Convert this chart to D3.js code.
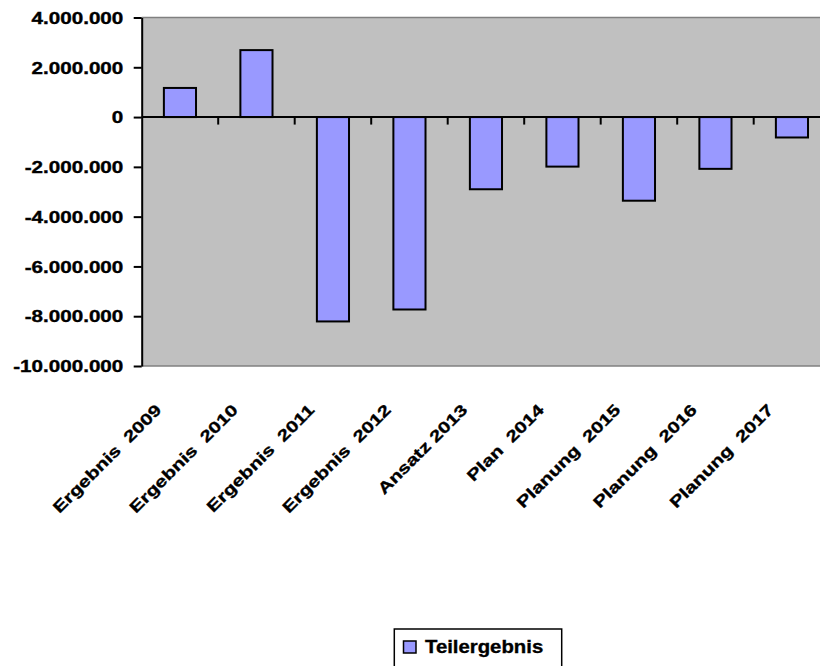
<!DOCTYPE html>
<html>
<head>
<meta charset="utf-8">
<script src="https://cdn.jsdelivr.net/npm/d3@7"></script>
<style>
  html, body { margin: 0; padding: 0; background: #fff; }
  svg { display: block; }
  text { font-family: "Liberation Sans", Arial, sans-serif; font-weight: bold; fill: #000; stroke: #000; stroke-width: 0.35px; white-space: pre; }
</style>
</head>
<body>
<svg id="chart" width="820" height="666"></svg>
<script>
// Teilergebnis per year (EUR)
const categories = [
  "Ergebnis  2009", "Ergebnis  2010", "Ergebnis  2011", "Ergebnis  2012",
  "Ansatz 2013", "Plan  2014", "Planung  2015", "Planung  2016", "Planung  2017"
];
const teilergebnis = [1170000, 2690000, -8210000, -7730000, -2900000, -1990000, -3360000, -2080000, -820000];
const yTicks = [4000000, 2000000, 0, -2000000, -4000000, -6000000, -8000000, -10000000];
const seriesName = "Teilergebnis";

const svg = d3.select("#chart");
const plot = { left: 141.7, right: 830.2, top: 17.5, bottom: 366 };
const barColor = "#9999ff";
const textScaleX = 1.29;

const de = d3.formatLocale({ decimal: ",", thousands: ".", grouping: [3], currency: ["", " €"], minus: "-" });
const fmt = de.format(",.0f");

const x = d3.scaleBand().domain(categories).range([plot.left, plot.right]).padding(0);
const y = d3.scaleLinear().domain([-10000000, 4000000]).range([plot.bottom, plot.top]);
const barW = x.bandwidth() * 0.42;

// plot area
svg.append("rect")
  .attr("x", plot.left).attr("y", plot.top)
  .attr("width", plot.right - plot.left).attr("height", plot.bottom - plot.top)
  .attr("fill", "#c0c0c0");
svg.append("line")
  .attr("x1", plot.left).attr("x2", plot.right).attr("y1", plot.top).attr("y2", plot.top)
  .attr("stroke", "#808080").attr("stroke-width", 1.5);
svg.append("line")
  .attr("x1", plot.left).attr("x2", plot.right).attr("y1", plot.bottom).attr("y2", plot.bottom)
  .attr("stroke", "#808080").attr("stroke-width", 1.5);

// bars
svg.append("g").selectAll("rect")
  .data(categories.map((c, i) => ({ c, v: teilergebnis[i] })))
  .join("rect")
  .attr("x", d => x(d.c) + x.bandwidth() / 2 - barW / 2)
  .attr("y", d => y(Math.max(0, d.v)))
  .attr("width", barW)
  .attr("height", d => Math.abs(y(d.v) - y(0)))
  .attr("fill", barColor)
  .attr("stroke", "#000")
  .attr("stroke-width", 2);

// y axis
const yAxis = svg.append("g")
  .attr("transform", `translate(${plot.left},0)`)
  .call(d3.axisLeft(y).tickValues(yTicks).tickFormat(fmt).tickSize(8).tickSizeOuter(0));
yAxis.select(".domain").attr("stroke", "#000").attr("stroke-width", 2);
yAxis.selectAll(".tick line").attr("stroke", "#000").attr("stroke-width", 2);
yAxis.selectAll(".tick text")
  .attr("font-size", 16)
  .attr("font-family", null)
  .attr("fill", null)
  .attr("x", -18.4 / textScaleX)
  .attr("dy", "0.36em")
  .attr("transform", `scale(${textScaleX},1)`);

// zero line with category boundary ticks
svg.append("line")
  .attr("x1", plot.left).attr("x2", plot.right)
  .attr("y1", y(0)).attr("y2", y(0))
  .attr("stroke", "#000").attr("stroke-width", 2);
svg.append("g").selectAll("line")
  .data(categories.slice(1))
  .join("line")
  .attr("x1", d => x(d)).attr("x2", d => x(d))
  .attr("y1", y(0)).attr("y2", y(0) + 7.5)
  .attr("stroke", "#000").attr("stroke-width", 2);

// category labels, rotated
svg.append("g").selectAll("text")
  .data(categories)
  .join("text")
  .attr("transform", d => `translate(${x(d) + x.bandwidth() / 2 - 17.5},411) rotate(-45) scale(${textScaleX},1)`)
  .attr("text-anchor", "end")
  .attr("font-size", 16)
  .text(d => d);

// legend
const legend = svg.append("g");
legend.append("rect")
  .attr("x", 394.3).attr("y", 629).attr("width", 167.4).attr("height", 50)
  .attr("fill", "#fff").attr("stroke", "#000").attr("stroke-width", 1.5);
legend.append("rect")
  .attr("x", 403.5).attr("y", 641).attr("width", 12.5).attr("height", 12)
  .attr("fill", barColor).attr("stroke", "#000").attr("stroke-width", 1.5);
legend.append("text")
  .attr("transform", `translate(425,653.3) scale(1.13,1)`)
  .attr("font-size", 18)
  .text(seriesName);
</script>
</body>
</html>
